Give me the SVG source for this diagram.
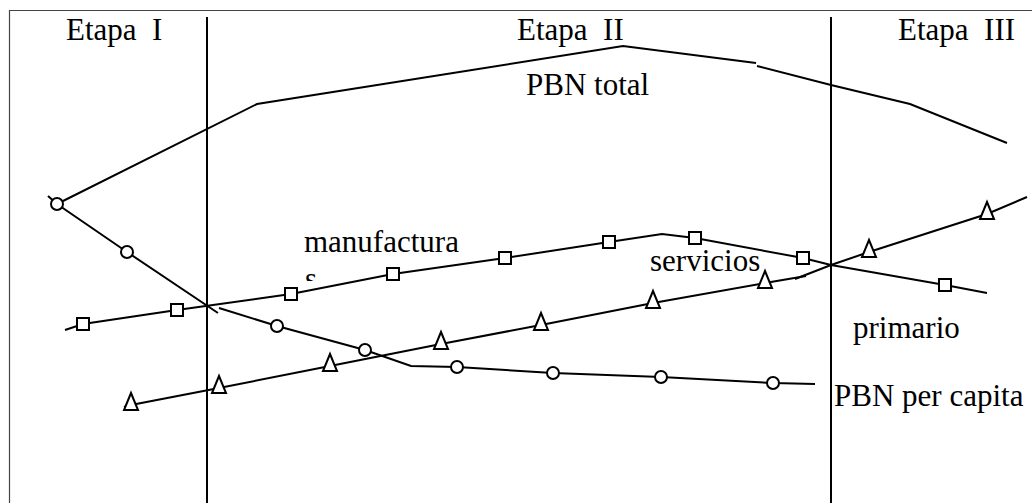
<svg xmlns="http://www.w3.org/2000/svg" width="1032" height="503" viewBox="0 0 1032 503">
<style>
.t{font-family:"Liberation Serif","Times New Roman",serif;font-size:31px;fill:#000;white-space:pre}
.ln{fill:none;stroke:#000;stroke-width:2;stroke-linejoin:miter}
.frame{fill:none;stroke:#444;stroke-width:1.2}
.mk{fill:#fff;stroke:#000;stroke-width:2}
</style>
<defs>
<circle id="c" r="6" class="mk"/>
<rect id="s" x="-6" y="-6" width="12" height="12" class="mk"/>
<polygon id="tr" points="0,-12 7,5 -7,5" class="mk"/>
<clipPath id="sclip"><rect x="290" y="260" width="40" height="21"/></clipPath>
</defs>
<rect id="bg" x="0" y="0" width="1032" height="503" fill="#fff"/>
<g id="frame">
<path class="frame" d="M9.5,503 V10.5 H1032"/>
<line x1="207" y1="17" x2="207" y2="503" stroke="#000" stroke-width="2"/>
<line x1="831" y1="17" x2="831" y2="503" stroke="#000" stroke-width="2"/>
</g>
<g id="connectors">
<polyline id="pbn-total" class="ln" points="57,204 257,104 623,46 756,63"/>
<polyline class="ln" points="757,66 831,85 910,104 1007,143"/>
<polyline id="pbn-capita" class="ln" points="48,196 57,204 127,252 218,313"/>
<polyline class="ln" points="219,308 277,326 365,350 411,366 457,367 553,373 661,377 773,383 815,384"/>
<polyline id="manufactura" class="ln" points="65,330 83,324 177,310 291,294 393,274 505,258 609,242 662,234 695,238 803,258 831,265 945,285 987,293"/>
<polyline id="primario" class="ln" points="124,407 131,405 219,388 330,366 441,344 541,325 653,303 765,283 806,276"/>
<polyline class="ln" points="795,279 831,265 869,252 987,214 1027,197"/>
</g>
<g id="circles">
<use href="#c" x="57" y="204"/><use href="#c" x="127" y="252"/><use href="#c" x="277" y="326"/><use href="#c" x="365" y="350"/><use href="#c" x="457" y="367"/><use href="#c" x="553" y="373"/><use href="#c" x="661" y="377"/><use href="#c" x="773" y="383"/>
</g>
<g id="squares">
<use href="#s" x="83" y="324"/><use href="#s" x="177" y="310"/><use href="#s" x="291" y="294"/><use href="#s" x="393" y="274"/><use href="#s" x="505" y="258"/><use href="#s" x="609" y="242"/><use href="#s" x="695" y="238"/><use href="#s" x="803" y="258"/><use href="#s" x="945" y="285"/>
</g>
<g id="triangles">
<use href="#tr" x="131" y="405"/><use href="#tr" x="219" y="388"/><use href="#tr" x="330" y="366"/><use href="#tr" x="441" y="344"/><use href="#tr" x="541" y="325"/><use href="#tr" x="653" y="303"/><use href="#tr" x="765" y="283"/><use href="#tr" x="869" y="252"/><use href="#tr" x="987" y="214"/>
</g>
<g id="labels">
<text class="t" x="66" y="40">Etapa  I</text>
<text class="t" x="517" y="40">Etapa  II</text>
<text class="t" x="898" y="40">Etapa  III</text>
<text class="t" x="526" y="95">PBN total</text>
<text class="t" x="304" y="252">manufactura</text>
<text class="t" x="305" y="289" clip-path="url(#sclip)">s</text>
<text class="t" x="650" y="271">servicios</text>
<text class="t" x="853" y="338">primario</text>
<text class="t" x="834" y="406">PBN per capita</text>
</g>
</svg>
